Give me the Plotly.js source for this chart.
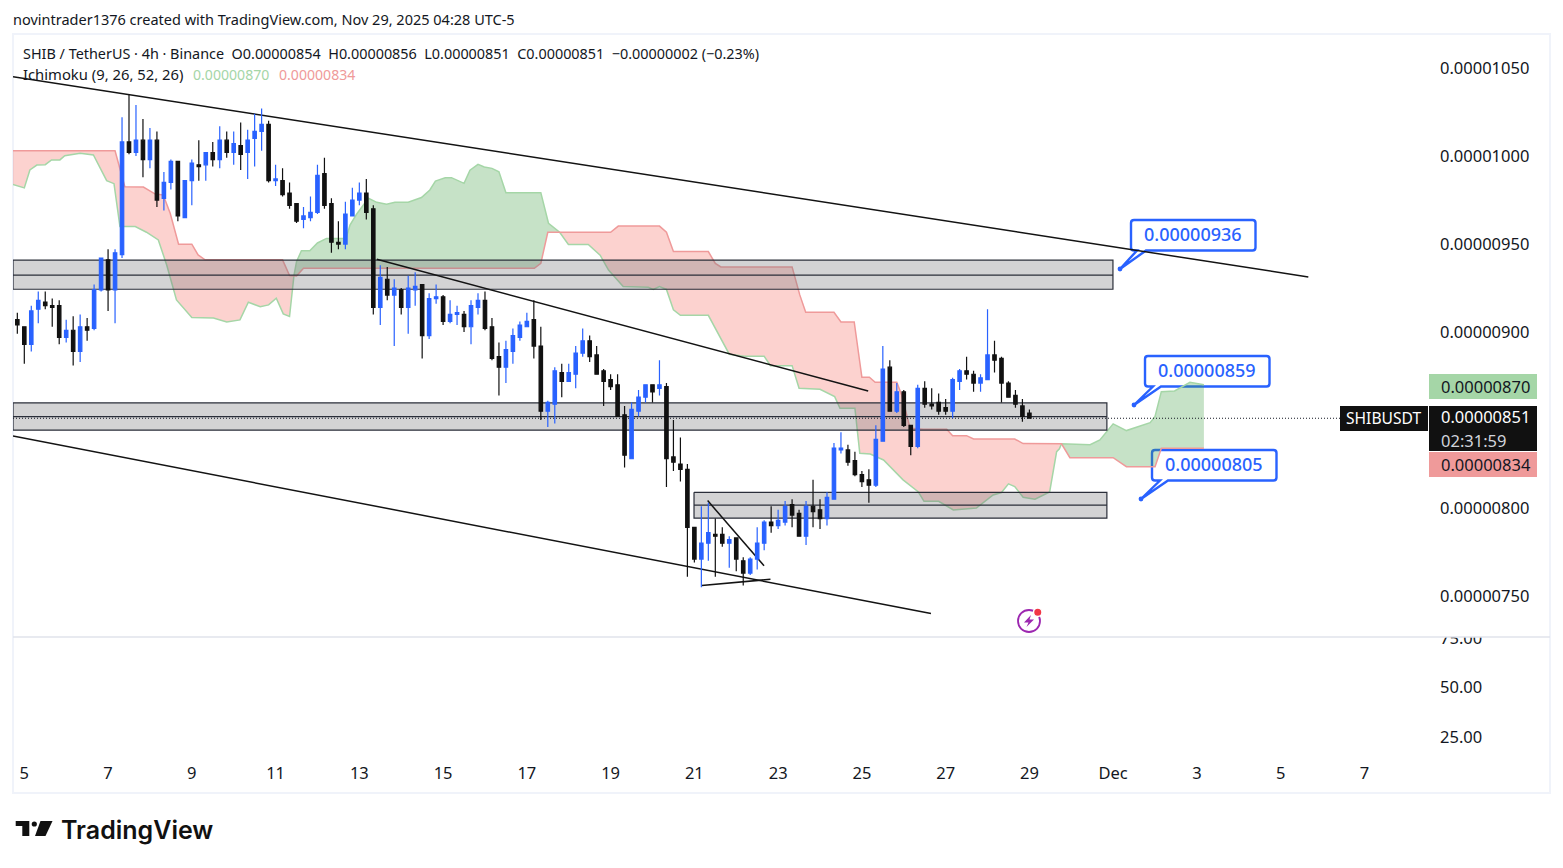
<!DOCTYPE html>
<html><head><meta charset="utf-8">
<script src="https://cdn.plot.ly/plotly-3.0.1.min.js"></script>
<style>html,body{margin:0;padding:0;background:#fff}#c{width:1563px;height:868px}</style>
</head><body><div id="c"></div>
<script>
// Prices are in units of 1e-8 USDT, candles are 4h bars, first bar 2025-11-04 20:00
const opens=[907,903,893,913,917,915,915,897,901,889,903,902,924,941,924,944,1008,1002,1009,998,1009,976,985,997,965,986,995,995,1002,998,1009,1002,1006,1002,1010,1014,1018,986,986,979,973,964,965,968,990,973,951,950,966,975,979,970,914,930,921,924,914,924,927,898,919,920,906,910,910,903,914,918,903,886,880,889,897,903,907,892,855,859,877,872,876,888,895,887,878,873,870,853,828,855,863,870,868,869,829,825,822,789,771,780,785,785,780,783,770,763,771,780,792,790,792,802,797,784,801,799,794,805,833,833,827,819,816,813,838,880,855,866,847,835,868,859,860,857,855,872,878,876,871,873,887,885,871,864,858,854];
const highs=[911,903,915,923,923,919,918,907,909,910,908,927,942,947,947,1022,1035,1029,1021,1016,1014,991,998,997,986,998,1009,1002,1008,1017,1014,1014,1019,1015,1024,1027,1020,995,993,985,973,971,977,995,999,976,963,974,982,985,987,972,938,937,930,925,932,934,927,922,927,921,918,915,912,918,922,923,908,894,895,902,906,911,918,903,861,880,882,882,892,902,898,892,879,876,876,858,860,867,870,870,884,871,850,840,825,789,801,803,794,789,784,783,772,772,789,793,801,799,804,805,799,804,816,805,809,837,843,836,832,821,822,847,892,884,871,867,847,870,872,868,865,862,874,879,886,878,876,913,895,886,872,867,862,856];
const lows=[899,882,889,905,913,903,893,894,881,883,895,901,923,912,905,942,1001,1000,988,993,971,969,981,963,965,972,986,986,994,993,999,995,992,987,994,1003,985,983,977,970,962,959,963,967,970,945,947,947,966,972,964,910,904,918,892,910,899,915,885,896,916,904,905,904,900,893,910,901,884,864,871,882,895,903,885,850,846,848,863,872,868,886,883,876,858,867,852,823,828,852,860,860,864,812,821,815,761,769,755,770,761,778,766,764,756,762,765,776,786,788,790,789,784,779,789,788,790,805,831,824,818,812,803,812,838,855,854,846,830,834,857,856,853,853,851,867,873,866,866,873,877,860,863,857,849,851];
const closes=[904,893,912,918,915,914,897,901,889,903,901,924,942,924,945,1008,1002,1009,998,1009,975,985,997,966,986,996,994,1002,998,1009,1002,1007,1001,1009,1014,1018,986,987,978,972,963,966,968,989,972,951,950,967,975,979,968,914,931,921,925,914,925,926,898,919,920,906,910,911,903,915,918,902,885,880,890,898,904,906,892,855,860,878,872,877,888,895,886,876,872,869,852,830,856,863,870,866,870,828,826,822,789,771,780,786,784,780,782,771,763,771,780,792,790,793,801,796,784,801,798,794,806,834,834,826,819,815,813,839,879,855,866,847,835,868,859,858,855,855,873,878,876,871,874,887,884,871,863,859,852,851];

// Ichimoku leading spans read at their kinks: bar position and price
const spanABars=[0,2,2.8,3.8,5,5.9,7.1,7.8,10,11.9,13.8,14.85,15.7,17.9,19.5,21.2,22.4,23.8,26,29.1,31,32.9,34.1,35.8,37,38.1,39.1,40,40.63,41,41.7,42.9,44,45.3,48.1,48.66,49.6,51.3,52.5,53.9,55.1,57,58.9,60.1,60.9,62.3,63.2,65,65.85,67,67.9,69,70,71,76,77.1,78.7,79.95,82.8,84.5,85.7,87.8,91.4,92.1,93,94,95,96,100,101,103,105.1,108,108.9,112,113,116,118.1,118.86,121,121.7,123.2,125.1,127.9,130.1,130.9,133,135.1,138.4,140.8,142,143,143.9,145.1,146.8,148.9,149.9,150.3,150.6,154.7,156.1,158,159.9,163.3,164,164.9,166.8,169,170.9,171];
const spanA=[984.3,981.9,992.1,994.9,995.1,997.8,997.8,1000.2,1001.6,1000.6,986,984.3,959.9,959.9,956.7,952.3,938.1,918.2,908.2,908,905.7,906.9,916.9,914.4,915.4,919.2,910.3,908.8,932,940,946.2,946.2,950.6,953.2,953.2,960.8,966.9,976,973.7,972.6,973.7,973.7,976.4,980.7,985.8,987.7,987.7,984.5,992,995.3,993.8,993,991.1,979.2,979.2,961.8,956.7,949.8,949.8,943.7,935.2,925.8,925.4,924.2,925.8,924.2,912.6,909.5,909.5,902.1,887.4,886.2,886.2,880.9,880.9,868,867.5,863.3,856.7,856.7,831.1,830.7,827.3,816,809.1,803.8,803.8,798.9,800,807.4,808.8,813.7,812.2,806.1,805,809.1,832,833.6,836.5,836,838.7,847.8,844,848.5,852,866.1,866.5,871.4,869.9,870];
const spanBBars=[0,15,16.4,19.06,20.7,21.9,22.9,24.1,26,26.9,27.9,39,40,40.63,41,42,75.07,76,77,78.7,86,87.1,93,94,95,100,101,101.8,112,113.1,113.95,118,119,120.9,122,123.07,123.9,127,127.7,128.9,130.8,134.15,135,137,138,143.9,145.1,150.6,151.8,158,159.9,164,164.9,171];
const spanB=[1003,1003,982.6,982.4,978.5,977.9,967.5,949.9,949.9,943.8,941,941,932.1,932,931.9,936.2,936.2,939,956.7,956.7,956.7,960.2,960.2,956.7,945.7,945.7,939,937,937,921.1,911.2,911.2,905.7,905.7,874.3,874.3,871.4,871.4,864.2,845.3,844.7,844.7,841.1,841.1,839.2,839.2,836.6,836.5,828.6,828.6,823.5,823.5,833.9,833.9];
// Bar positions where the two spans swap places
const cloudCross=[0,40.63,78.7,150.6,171];
const cloudSign=['down','up','down','up'];

// Drawn zones: left bar, right bar, top, middle, bottom price
const zoneLeft=[0.38,0.38,97.95];
const zoneRight=[157.97,157.1,157.1];
const zoneTop=[940.8,859.7,808.9];
const zoneMid=[932.3,851.9,801.6];
const zoneBottom=[924.3,844.2,794.2];

// Drawn trend lines: start bar, end bar, start price, end price
const trendBar0=[0.38,52.5,0.38,99.9,99.05];
const trendBar1=[185.96,122.9,131.9,107.98,108.9];
const trendP0=[1045.1,941.3,840.9,804.2,755.9];
const trendP1=[931.3,866.5,740,767.2,759.5];

const dayTicks=['5','7','9','11','13','15','17','19','21','23','25','27','29','Dec','3','5','7'];
const lastPrice=851;
const calloutLabels=['0.00000936','0.00000859','0.00000805'];

const BLUE='#2962ff',BLACK='#111111',INK='#131722';
const START=Date.UTC(2025,10,4,20);
const slot=b=>new Date(START+(b-1)*4*3600e3).toISOString().slice(0,19).replace('T',' ');
const val=v=>v*1e-8;
const tickDates=dayTicks.map((_,i)=>new Date(Date.UTC(2025,10,5+2*i)).toISOString().slice(0,10));

const traces=[];
// cloud fills
cloudSign.forEach((s,k)=>{
  const a=cloudCross[k],b=cloudCross[k+1];
  const ax=[],ay=[],bx=[],by=[];
  spanABars.forEach((v,i)=>{if(v>=a&&v<=b){ax.push(v);ay.push(spanA[i]);}});
  spanBBars.forEach((v,i)=>{if(v>=a&&v<=b){bx.push(v);by.push(spanB[i]);}});
  traces.push({type:'scatter',mode:'lines',x:ax.concat(bx.reverse()).map(slot),y:ay.concat(by.reverse()).map(val),fill:'toself',
    fillcolor:s==='up'?'rgba(67,160,71,0.30)':'rgba(244,67,54,0.24)',line:{width:0},hoverinfo:'skip',zorder:0});
});
traces.push({type:'scatter',mode:'lines',x:spanABars.map(slot),y:spanA.map(val),line:{color:'#a5d6a7',width:1.5},hoverinfo:'skip',zorder:0});
traces.push({type:'scatter',mode:'lines',x:spanBBars.map(slot),y:spanB.map(val),line:{color:'#ef9a9a',width:1.5},hoverinfo:'skip',zorder:0});
// zones
zoneLeft.forEach((l,i)=>{
  const r=zoneRight[i];
  traces.push({type:'scatter',mode:'lines',x:[l,r,r,l,l].map(slot),y:[zoneTop[i],zoneTop[i],zoneBottom[i],zoneBottom[i],zoneTop[i]].map(val),
    fill:'toself',fillcolor:'rgba(120,120,125,0.33)',line:{color:'#2a2e39',width:1.2},hoverinfo:'skip',zorder:1});
  traces.push({type:'scatter',mode:'lines',x:[l,r].map(slot),y:[zoneMid[i],zoneMid[i]].map(val),line:{color:'#2a2e39',width:1.2},hoverinfo:'skip',zorder:1});
});
// last price line
traces.push({type:'scatter',mode:'lines',x:[0.38,190.5].map(slot),y:[lastPrice,lastPrice].map(val),line:{color:INK,width:1,dash:'1px,2px'},hoverinfo:'skip',zorder:1});
// trend lines
trendBar0.forEach((b,i)=>{
  traces.push({type:'scatter',mode:'lines',x:[b,trendBar1[i]].map(slot),y:[trendP0[i],trendP1[i]].map(val),line:{color:'#131313',width:1.5},hoverinfo:'skip',zorder:1});
});
// candles
traces.push({type:'candlestick',x:opens.map((_,i)=>slot(i+1)),open:opens.map(val),high:highs.map(val),low:lows.map(val),close:closes.map(val),
  increasing:{line:{color:BLUE,width:1.2},fillcolor:BLUE},decreasing:{line:{color:BLACK,width:1.2},fillcolor:BLACK},whiskerwidth:0,hoverinfo:'skip',zorder:2});
// lower pane axis carrier
traces.push({type:'scatter',mode:'lines',x:[],y:[],yaxis:'y2',hoverinfo:'skip'});

// page-pixel helpers for the frame, labels and furniture
const PL=13,PR=1429,PT=34,PB=760;
const fx=x=>(x-PL)/(PR-PL), fy=y=>1-(y-PT)/(PB-PT);
const P=(x,y)=>fx(x).toFixed(5)+','+fy(y).toFixed(5);
const shapes=[];
const rectShape=(x0,y0,x1,y1,o)=>Object.assign({type:'rect',xref:'paper',yref:'paper',x0:fx(x0),x1:fx(x1),y0:fy(y0),y1:fy(y1),layer:'above',line:{width:0}},o);
// hides the upper half of the lower pane's top label
shapes.push(rectShape(1432,624,1548,637,{fillcolor:'#ffffff'}));
shapes.push(rectShape(13,34,1550,793,{line:{color:'#f0f3fa',width:2},layer:'below'}));
shapes.push({type:'line',xref:'paper',yref:'paper',x0:fx(13),x1:fx(1550),y0:fy(637),y1:fy(637),line:{color:'#e0e3eb',width:1.5},layer:'above'});
// axis price tags
shapes.push(rectShape(1429,374,1537,399,{fillcolor:'#a5d6a7'}));
shapes.push(rectShape(1429,452,1537,477,{fillcolor:'#ef9a9a'}));
shapes.push(rectShape(1429,406,1537,451,{fillcolor:BLACK}));
shapes.push(rectShape(1340,406,1428,431,{fillcolor:BLACK}));
// callouts sit under the chart's traces, as in the reference
function callout(l,t,r,b,tx,ty,p1,p2){
  const c=3;
  const d='M'+P(l+c,t)+' L'+P(r-c,t)+' Q'+P(r,t)+' '+P(r,t+c)+' L'+P(r,b-c)+' Q'+P(r,b)+' '+P(r-c,b)+' L'+P(p2,b)+' L'+P(tx,ty)+' L'+P(p1,b)+' L'+P(l+c,b)+' Q'+P(l,b)+' '+P(l,b-c)+' L'+P(l,t+c)+' Q'+P(l,t)+' '+P(l+c,t)+' Z';
  shapes.push({type:'path',xref:'paper',yref:'paper',path:d,fillcolor:'#ffffff',line:{color:BLUE,width:2.4},layer:'below'});
  shapes.push({type:'circle',xref:'paper',yref:'paper',x0:fx(tx-2.4),x1:fx(tx+2.4),y0:fy(ty+2.4),y1:fy(ty-2.4),fillcolor:BLUE,line:{width:0},layer:'below'});
}
callout(1131,220,1255.5,250.5,1120,269,1137,1146);
callout(1145,356,1269.5,386.5,1134,405,1153,1161);
callout(1152,450,1276.5,480.5,1141,499,1160,1168);
// spark icon
shapes.push({type:'circle',xref:'paper',yref:'paper',x0:fx(1018),x1:fx(1040),y0:fy(632),y1:fy(610),line:{color:'#9c27b0',width:1.8},layer:'above'});
shapes.push({type:'path',xref:'paper',yref:'paper',path:'M'+P(1031,615)+' L'+P(1024,622.5)+' L'+P(1028.5,622.5)+' L'+P(1026.5,627)+' L'+P(1034,619.5)+' L'+P(1029.5,619.5)+' Z',fillcolor:'#9c27b0',line:{width:0},layer:'above'});
shapes.push({type:'circle',xref:'paper',yref:'paper',x0:fx(1033.5),x1:fx(1042),y0:fy(616.5),y1:fy(608),fillcolor:'#f23645',line:{color:'#ffffff',width:1.5},layer:'above'});
// brand mark
shapes.push({type:'path',xref:'paper',yref:'paper',path:'M'+P(15.7,821)+' L'+P(29.3,821)+' L'+P(29.3,836)+' L'+P(22.3,836)+' L'+P(22.3,826)+' L'+P(15.7,826)+' Z',fillcolor:BLACK,line:{width:0},layer:'above'});
shapes.push({type:'circle',xref:'paper',yref:'paper',x0:fx(31.7),x1:fx(36.9),y0:fy(826.6),y1:fy(821.4),fillcolor:BLACK,line:{width:0},layer:'above'});
shapes.push({type:'path',xref:'paper',yref:'paper',path:'M'+P(40.5,821)+' L'+P(52.5,821)+' L'+P(45.5,836)+' L'+P(35,836)+' Z',fillcolor:BLACK,line:{width:0},layer:'above'});

const FONT='"Noto Sans", sans-serif';
const note=(x,y,text,size,color,o)=>Object.assign({xref:'paper',yref:'paper',x:fx(x),y:fy(y),text,showarrow:false,xanchor:'left',yanchor:'middle',borderpad:0,font:{family:FONT,size,color}},o||{});
const callFont={family:FONT,size:18,color:BLUE,weight:500};
const annotations=[
  note(12,19,'novintrader1376 created with TradingView.com, Nov 29, 2025 04:28 UTC-5',14.5,INK),
  note(22,53.5,'SHIB / TetherUS · 4h · Binance  O0.00000854  H0.00000856  L0.00000851  C0.00000851  −0.00000002 (−0.23%)',14.4,INK),
  note(22,74.5,'Ichimoku (9, 26, 52, 26)',14.8,INK),
  note(192,74.5,'0.00000870',14.1,'#a5d6a7'),
  note(278,74.5,'0.00000834',14.1,'#ef9a9a'),
  note(1440,386,'0.00000870',16.5,INK),
  note(1440,417,'0.00000851',16.5,'#ffffff'),
  note(1440,440,'02:31:59',16.5,'#d1d4dc'),
  note(1440,464,'0.00000834',16.5,INK),
  note(1345,418,'SHIBUSDT',15.6,'#ffffff'),
  note(1193.2,234,calloutLabels[0],18,BLUE,{xanchor:'center',font:callFont}),
  note(1207.2,370,calloutLabels[1],18,BLUE,{xanchor:'center',font:callFont}),
  note(1214.2,464,calloutLabels[2],18,BLUE,{xanchor:'center',font:callFont}),
  note(59.5,830,'TradingView',25,BLACK,{font:{family:'Inter, sans-serif',size:25,color:BLACK,weight:600}})
];

const paneSplit=(PB-637)/(PB-PT);
const layout={
  width:1563,height:868,margin:{l:PL,r:1563-PR,t:PT,b:868-PB,pad:0},
  paper_bgcolor:'#ffffff',plot_bgcolor:'#ffffff',showlegend:false,hovermode:false,dragmode:false,boxgap:0.3,
  font:{family:FONT,color:INK,size:16},
  xaxis:{type:'date',anchor:'y2',range:[slot(0.38),slot(203.25)],tickmode:'array',tickvals:tickDates,ticktext:dayTicks,ticks:'',showgrid:false,zeroline:false,showline:false,tickangle:0,
    tickfont:{family:FONT,size:16.5,color:INK},rangeslider:{visible:false},ticklabelstandoff:1},
  yaxis:{domain:[paneSplit,1],anchor:'x',side:'right',range:[val(726.7),val(1069.35)],tick0:0,dtick:val(50),tickformat:'.8f',ticks:'',showgrid:false,zeroline:false,showline:false,
    tickfont:{family:FONT,size:16.5,color:INK},ticklabelstandoff:10},
  yaxis2:{domain:[0,paneSplit],anchor:'x',side:'right',range:[13.4,75.5],tickmode:'array',tickvals:[25,50,75],tickformat:'.2f',ticks:'',showgrid:false,zeroline:false,showline:false,
    tickfont:{family:FONT,size:16.5,color:INK},ticklabelstandoff:10},
  shapes,annotations
};
Plotly.newPlot('c',traces,layout,{staticPlot:true,displayModeBar:false});
</script>
</body></html>
